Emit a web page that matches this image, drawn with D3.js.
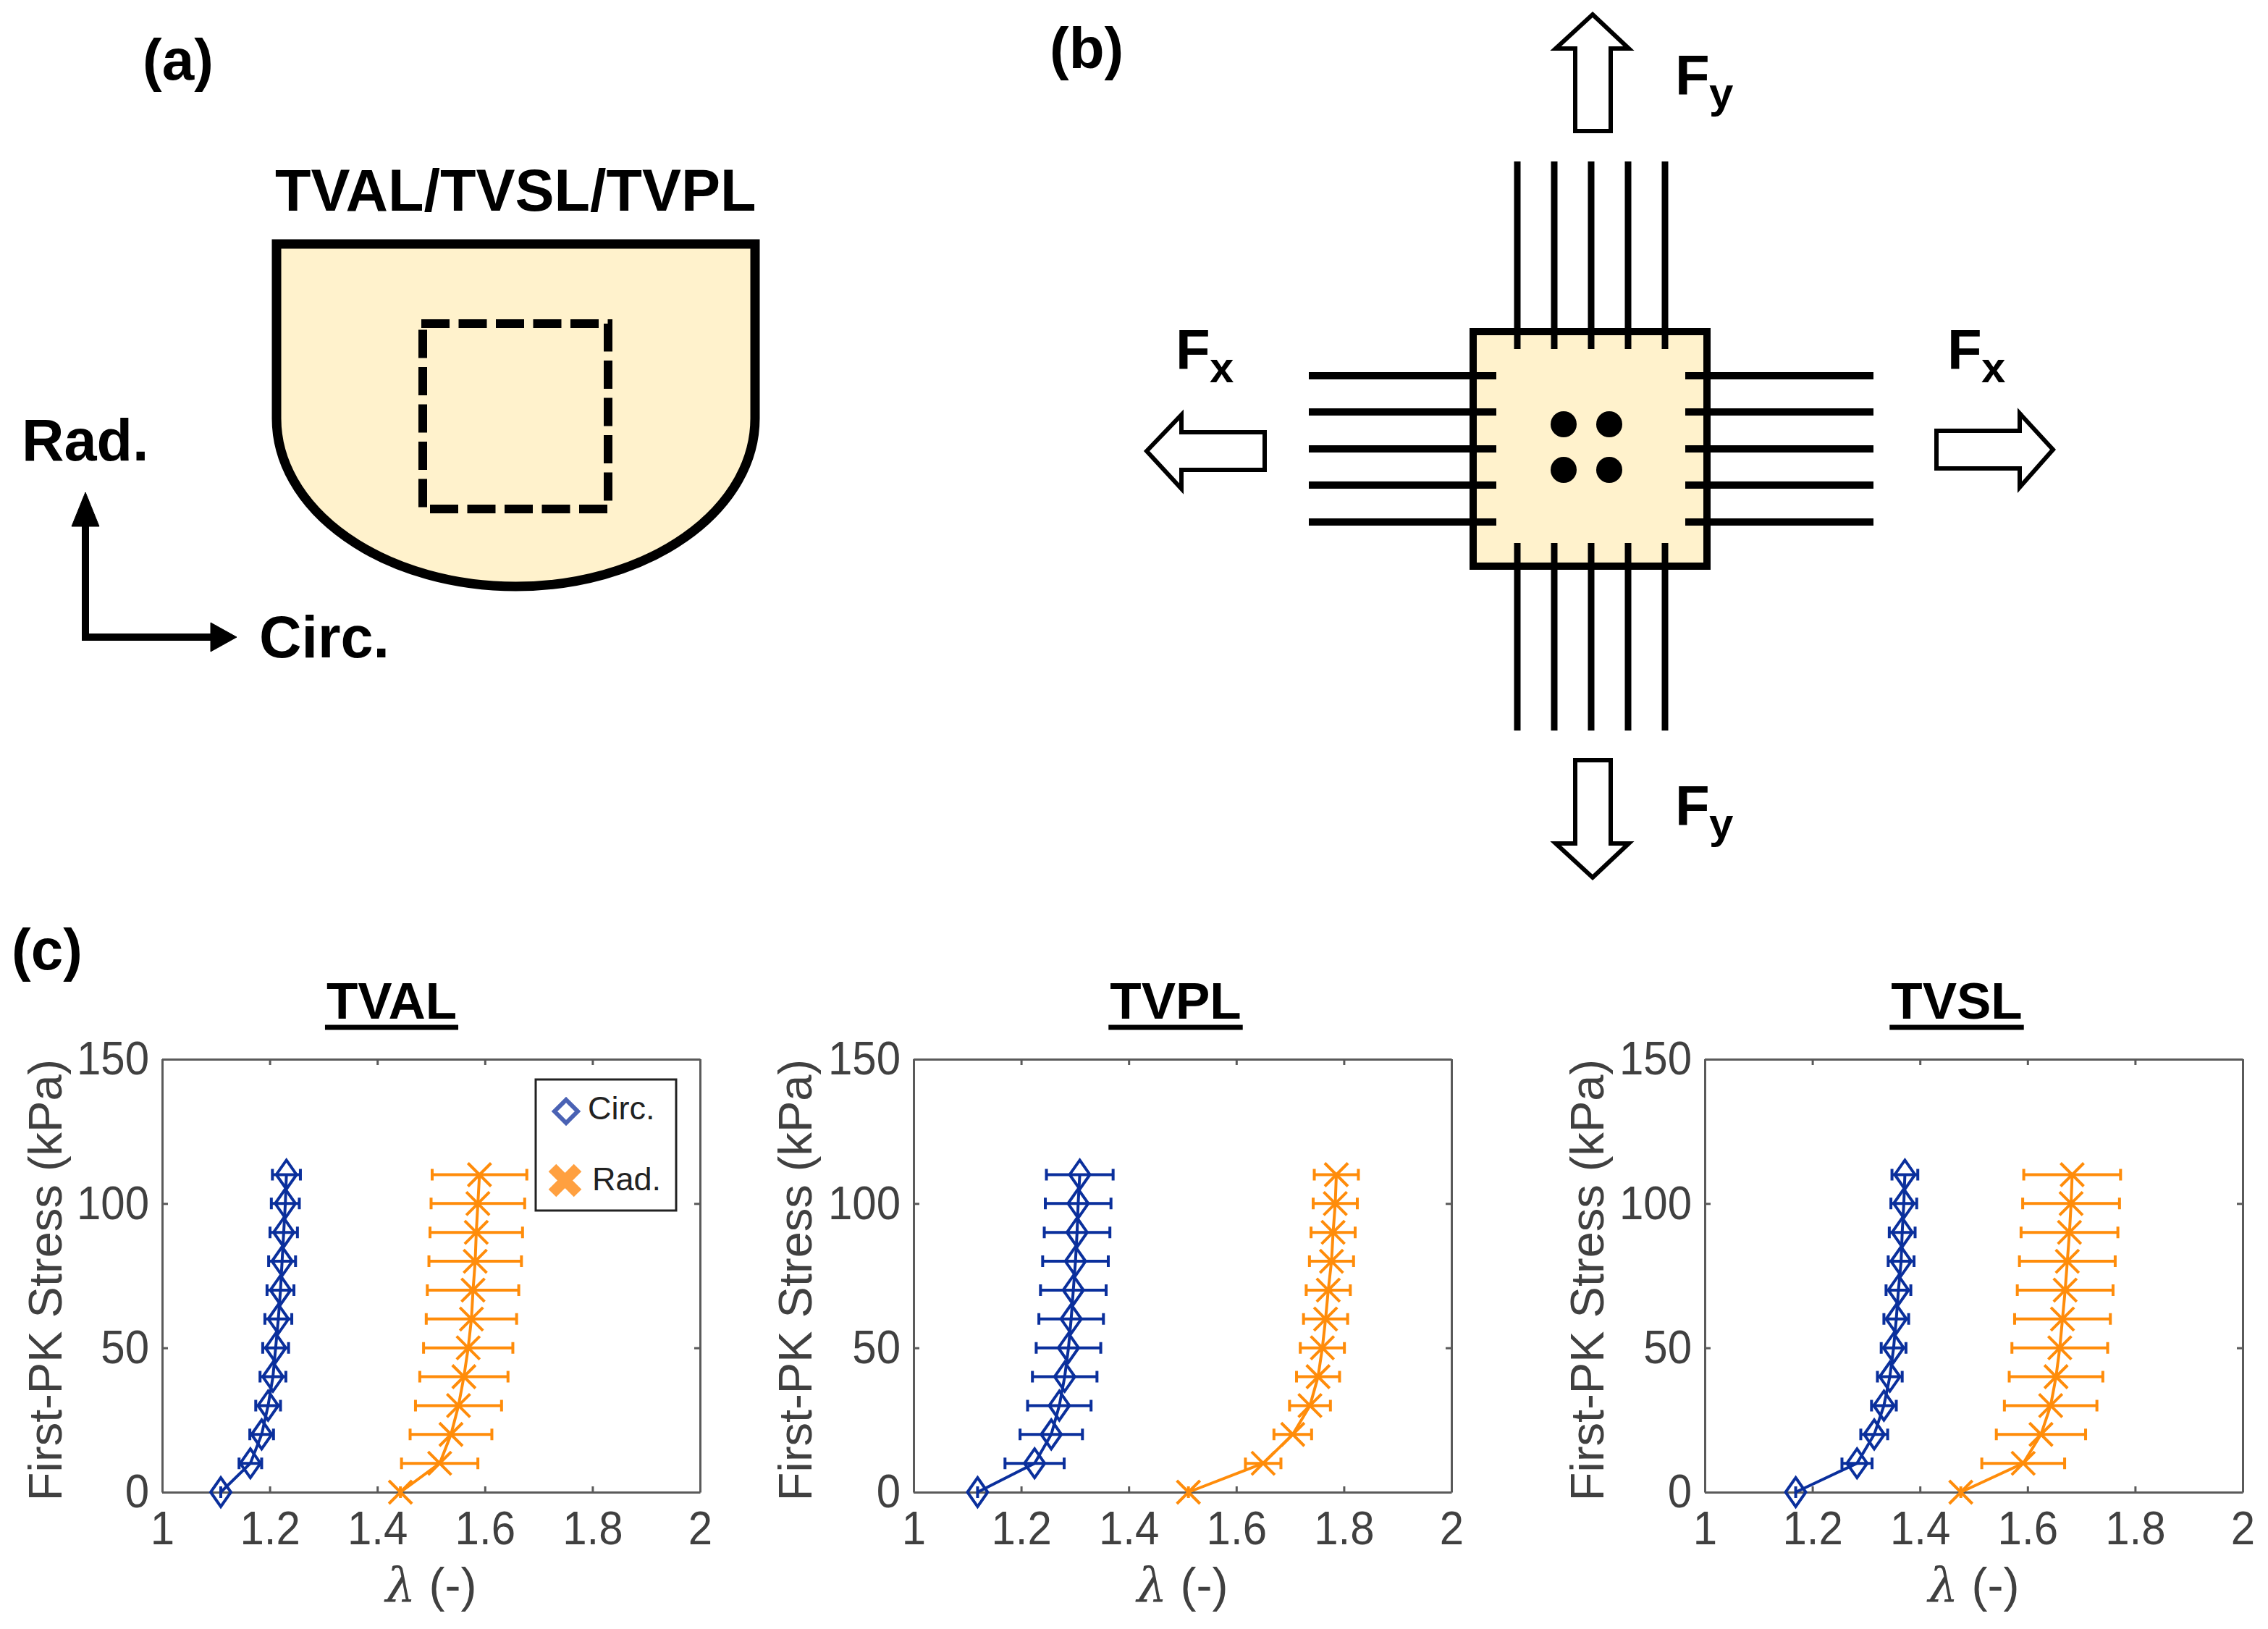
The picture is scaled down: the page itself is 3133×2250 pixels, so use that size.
<!DOCTYPE html>
<html><head><meta charset="utf-8"><style>html,body{margin:0;background:#fff}svg{display:block}</style>
<script src="https://d3js.org/d3.v7.min.js"></script></head><body><svg id="c" width="3133" height="2250"></svg>
<script>
const stress=[0,10,20,30,40,50,60,70,80,90,100,110];
const xTicks=[1,1.2,1.4,1.6,1.8,2];
const yTicks=[0,50,100,150];
const panelNames=["TVAL","TVPL","TVSL"];
const tvalCirc=[1.109,1.164,1.185,1.197,1.206,1.211,1.216,1.22,1.223,1.226,1.229,1.231];
const tvalCircErr=[0,.021,.022,.023,.024,.024,.025,.025,.025,.0255,.026,.026];
const tvalRad=[1.443,1.516,1.537,1.551,1.561,1.569,1.575,1.578,1.582,1.584,1.587,1.59];
const tvalRadErr=[0,.071,.076,.08,.082,.083,.084,.085,.086,.086,.087,.088];
const tvplCirc=[1.119,1.225,1.256,1.271,1.281,1.288,1.293,1.297,1.301,1.304,1.306,1.309];
const tvplCircErr=[0,.055,.058,.059,.06,.06,.06,.061,.061,.061,.061,.062];
const tvplRad=[1.511,1.65,1.705,1.737,1.752,1.76,1.766,1.771,1.777,1.78,1.784,1.786];
const tvplRadErr=[0,.033,.035,.038,.04,.041,.041,.041,.041,.041,.041,.041];
const tvslCirc=[1.169,1.283,1.315,1.333,1.344,1.351,1.356,1.36,1.365,1.367,1.37,1.372];
const tvslCircErr=[0,.028,.025,.023,.023,.023,.023,.023,.024,.024,.024,.024];
const tvslRad=[1.476,1.592,1.625,1.643,1.653,1.66,1.665,1.67,1.674,1.678,1.681,1.683];
const tvslRadErr=[0,.077,.083,.086,.087,.089,.089,.089,.089,.09,.09,.09];
const xLabelSymbol="λ", xLabelUnit=" (-)", yLabel="First-PK Stress (kPa)";
const legendLabels=["Circ.","Rad."];

const FONT='"Liberation Sans",Arial,sans-serif';
const BLUE='#0a2f9c',ORANGE='#ff8c0a',GRAY='#404040',CREAM='#fff2cc';
const svg=d3.select('#c');
svg.append('rect').attr('width',3133).attr('height',2250).attr('fill','#fff');
function txt(g,s,x,y,size,o={}){
  const t=g.append('text').attr('x',x).attr('y',y).attr('font-family',FONT).attr('font-size',size)
   .attr('font-weight',o.w||'bold').attr('fill',o.fill||'#000').attr('text-anchor',o.a||'start').text(s);
  if(o.rot!==undefined)t.attr('transform',`rotate(${o.rot} ${x} ${y})`);
  return t;
}
const line=d3.line();
const path=(g,pts,o={})=>g.append('path').attr('d',line(pts)+(o.close?'Z':''))
  .attr('fill',o.fill||'none').attr('stroke',o.stroke||'#000').attr('stroke-width',o.sw||10)
  .attr('stroke-linejoin','miter').attr('stroke-miterlimit',10);

/* panel (a) */
const a=svg.append('g');
txt(a,'(a)',197,110,80);
txt(a,'TVAL/TVSL/TVPL',380,291,81);
a.append('path').attr('d','M382,337H1043V578A330.5,232 0 0 1 382,578Z').attr('fill',CREAM).attr('stroke','#000').attr('stroke-width',13);
a.append('path').attr('d','M582,447H840V703H584V447').attr('fill','none')
 .attr('stroke','#000').attr('stroke-width',12).attr('stroke-dasharray','39 12.5');
path(a,[[118,690],[118,880],[300,880]],{sw:10});
path(a,[[99,727],[118,680],[137,727]],{fill:'#000',sw:1,close:true});
path(a,[[291,860],[327,880],[291,900]],{fill:'#000',sw:1,close:true});
txt(a,'Rad.',30,636,81);
txt(a,'Circ.',358,908,81);

/* panel (b) */
const b=svg.append('g');
txt(b,'(b)',1450,94,80);
const cx=[2096,2147,2198,2249,2300], cy=[519,569,620,670,721];
b.append('rect').attr('x',2035).attr('y',458).attr('width',323).attr('height',324).attr('fill',CREAM).attr('stroke','#000').attr('stroke-width',10);
cx.forEach(x=>{path(b,[[x,223],[x,482]],{sw:9});path(b,[[x,750],[x,1009]],{sw:9});});
cy.forEach(y=>{path(b,[[1808,y],[2067,y]],{sw:10});path(b,[[2328,y],[2588,y]],{sw:10});});
[2160,2223].forEach(x=>[586,649].forEach(y=>b.append('ellipse').attr('cx',x).attr('cy',y).attr('rx',18).attr('ry',18).attr('fill','#000')));
const arrow=(pts)=>path(b,pts,{fill:'#fff',sw:6,close:true});
arrow([[2200,20],[2250,67],[2225,67],[2225,181],[2176,181],[2176,67],[2149,67]]);
arrow([[2200,1212],[2250,1165],[2225,1165],[2225,1050],[2176,1050],[2176,1165],[2149,1165]]);
arrow([[1584,623],[1632,573],[1632,597],[1747,597],[1747,649],[1632,649],[1632,675]]);
arrow([[2836,621],[2790,571],[2790,595],[2675,595],[2675,647],[2790,647],[2790,673]]);
function force(s,x,y){ txt(b,'F',x,y,78); txt(b,s,x+47,y+18,60); }
force('y',2314,131);force('y',2314,1140);force('x',1624,510);force('x',2690,510);

/* panel (c) */
const c=svg.append('g');
txt(c,'(c)',16,1339,80);
const panels=[
 {x0:224,x1:967,tc:541,ylx:85,circ:tvalCirc,ce:tvalCircErr,rad:tvalRad,re:tvalRadErr},
 {x0:1262,x1:2005,tc:1624,ylx:1121,circ:tvplCirc,ce:tvplCircErr,rad:tvplRad,re:tvplRadErr},
 {x0:2355,x1:3098,tc:2703,ylx:2215,circ:tvslCirc,ce:tvslCircErr,rad:tvslRad,re:tvslRadErr}];
const Y0=2061,Y1=1463;
panels.forEach((p,i)=>{
  const g=c.append('g');
  const x=d3.scaleLinear().domain([1,2]).range([p.x0,p.x1]);
  const y=d3.scaleLinear().domain([0,150]).range([Y0,Y1]);
  const style=(ax)=>{ax.selectAll('path,line').attr('stroke','#5a5a5a').attr('stroke-width',3);
    ax.selectAll('text').attr('font-family',FONT).attr('font-size',60).attr('fill',GRAY).attr('transform','scale(1,1.08)');};
  const fmt=d=>String(d);
  style(g.append('g').attr('transform',`translate(0,${Y0})`).call(d3.axisBottom(x).tickValues(xTicks).tickFormat(fmt).tickSizeInner(-8).tickSizeOuter(0).tickPadding(24)));
  style(g.append('g').attr('transform',`translate(${p.x0},0)`).call(d3.axisLeft(y).tickValues(yTicks).tickFormat(fmt).tickSizeInner(-8).tickSizeOuter(0).tickPadding(18)));
  style(g.append('g').attr('transform',`translate(0,${Y1})`).call(d3.axisTop(x).tickValues(xTicks).tickFormat('').tickSizeInner(-8).tickSizeOuter(0)));
  style(g.append('g').attr('transform',`translate(${p.x1},0)`).call(d3.axisRight(y).tickValues(yTicks).tickFormat('').tickSizeInner(-8).tickSizeOuter(0)));
  const t=txt(g,panelNames[i],p.tc,1407,71,{a:'middle'});
  const w=t.node().getComputedTextLength();
  g.append('line').attr('x1',p.tc-w/2-2).attr('x2',p.tc+w/2+2).attr('y1',1419).attr('y2',1419).attr('stroke','#000').attr('stroke-width',7);
  txt(g,yLabel,p.ylx,(Y0+Y1)/2+6,65,{a:'middle',rot:-90,w:'normal',fill:GRAY});
  const xl=txt(g,'',x(1.5),2212,66,{a:'middle',w:'normal',fill:GRAY});
  xl.append('tspan').attr('font-style','italic').attr('font-family','"DejaVu Serif",serif').text(xLabelSymbol);
  xl.append('tspan').text(xLabelUnit);
  const series=(vals,errs,col,mark)=>{
    const s=g.append('g').attr('stroke',col).attr('fill','none').attr('stroke-width',4);
    s.append('path').attr('d',d3.line().x((d,j)=>x(vals[j])).y(d=>y(d))(stress));
    stress.forEach((st,j)=>{
      const X=x(vals[j]),Yy=y(st),l=x(vals[j]-errs[j]),r=x(vals[j]+errs[j]);
      s.append('path').attr('d',`M${l},${Yy}H${r}M${l},${Yy-8}V${Yy+8}M${r},${Yy-8}V${Yy+8}`);
      mark(s,X,Yy);
    });
  };
  const diamond=(s,X,Yy)=>s.append('path').attr('d',`M${X},${Yy-20}L${X+14},${Yy}L${X},${Yy+20}L${X-14},${Yy}Z`);
  const cross=(s,X,Yy)=>s.append('path').attr('d',`M${X-16},${Yy-16}L${X+16},${Yy+16}M${X-16},${Yy+16}L${X+16},${Yy-16}`);
  series(p.circ,p.ce,BLUE,diamond);
  series(p.rad,p.re,ORANGE,cross);
  if(i===0){
    g.append('rect').attr('x',740).attr('y',1491).attr('width',194).attr('height',181).attr('fill','#fff').attr('stroke','#222').attr('stroke-width',3);
    g.append('path').attr('d','M782,1519L798,1535L782,1551L766,1535Z').attr('fill','none').attr('stroke','#4a62b4').attr('stroke-width',6);
    g.append('path').attr('d','M763,1613L798,1648M763,1648L798,1613').attr('fill','none').attr('stroke','#ffa040').attr('stroke-width',15);
    txt(g,legendLabels[0],812,1546,45,{w:'normal',fill:'#222'});
    txt(g,legendLabels[1],818,1644,45,{w:'normal',fill:'#222'});
  }
});
</script></body></html>
